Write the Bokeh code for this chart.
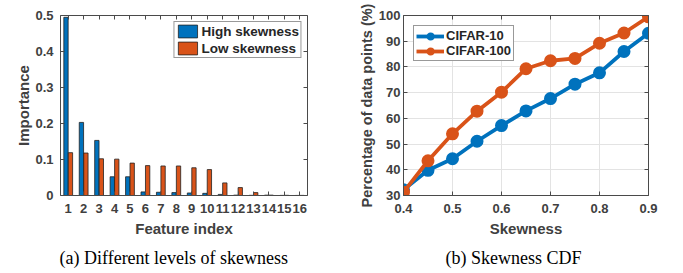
from bokeh.plotting import figure
from bokeh.models import (FixedTicker, LinearAxis, Range1d, Title, Legend, LegendItem,
                          ColumnDataSource, CustomJSTickFormatter)
from bokeh.transform import dodge
from bokeh.layouts import row
from bokeh.embed import file_html
from bokeh.resources import INLINE

# ---------------- data ----------------
feature_idx = list(range(1, 17))
high_skewness = [0.495, 0.203, 0.153, 0.052, 0.052, 0.010, 0.009, 0.008,
                 0.007, 0.006, 0.003, 0.001, 0.0005, 0.001, 0.0003, 0.0002]
low_skewness = [0.119, 0.118, 0.102, 0.101, 0.090, 0.083, 0.082, 0.082,
                0.077, 0.072, 0.035, 0.022, 0.008, 0.001, 0.0005, 0.0003]
importance_ticks = [0, 0.1, 0.2, 0.3, 0.4, 0.5]

skewness = [0.4, 0.45, 0.5, 0.55, 0.6, 0.65, 0.7, 0.75, 0.8, 0.85, 0.9]
cifar10 = [32.2, 39.8, 44.3, 51.1, 57.2, 62.9, 67.7, 73.3, 77.7, 86.0, 93.1]
cifar100 = [31.3, 43.5, 54.0, 62.8, 70.2, 79.3, 82.4, 83.3, 89.2, 93.2, 99.5]
skew_ticks = [0.4, 0.5, 0.6, 0.7, 0.8, 0.9]
pct_ticks = [30, 40, 50, 60, 70, 80, 90, 100]

BLUE = "#0072BD"
ORANGE = "#D95319"
AX = "#4a4a4a"
TXT = "#404040"
FONT = "Liberation Sans"


def style_axis(ax, size="13px"):
    ax.axis_line_color = AX
    ax.axis_line_width = 1
    ax.major_tick_line_color = AX
    ax.major_tick_in = 4
    ax.major_tick_out = 0
    ax.minor_tick_line_color = None
    ax.major_label_text_font = FONT
    ax.major_label_text_font_style = "bold"
    ax.major_label_text_font_size = size
    ax.major_label_text_color = TXT
    ax.axis_label_text_font = FONT
    ax.axis_label_text_font_style = "bold"
    ax.axis_label_text_font_size = "15px"
    ax.axis_label_text_color = TXT


def box_axis(p, place, ticks):
    ax = LinearAxis(ticker=FixedTicker(ticks=ticks),
                    formatter=CustomJSTickFormatter(code="return '';"))
    style_axis(ax)
    ax.major_label_standoff = 0
    p.add_layout(ax, place)


# ---------------- (a) bar chart ----------------
src = ColumnDataSource(dict(x=feature_idx, high=high_skewness, low=low_skewness))
p1 = figure(width=343, height=273, output_backend="svg", toolbar_location=None,
            x_range=Range1d(0.5, 16.5), y_range=Range1d(0, 0.5),
            min_border_left=60, min_border_right=36, min_border_top=15,
            min_border_bottom=76)
p1.outline_line_color = None
p1.xgrid.visible = False
p1.ygrid.visible = False

r_high = p1.vbar(x=dodge("x", -0.145, range=p1.x_range), top="high", width=0.28,
                 source=src, fill_color=BLUE, line_color="#222222", line_width=0.8)
r_low = p1.vbar(x=dodge("x", 0.145, range=p1.x_range), top="low", width=0.28,
                source=src, fill_color=ORANGE, line_color="#222222", line_width=0.8)

p1.xaxis.ticker = FixedTicker(ticks=feature_idx)
p1.yaxis.ticker = FixedTicker(ticks=importance_ticks)
p1.yaxis.major_label_overrides = {0: "0"}
style_axis(p1.xaxis[0])
style_axis(p1.yaxis[0])
p1.xaxis.axis_label = "Feature index"
p1.yaxis.axis_label = "Importance"
p1.xaxis.major_label_standoff = 8
p1.yaxis.major_label_standoff = 7
p1.xaxis.axis_label_standoff = 4
p1.yaxis.axis_label_standoff = 0
box_axis(p1, "above", feature_idx)
box_axis(p1, "right", importance_ticks)

leg1 = Legend(items=[LegendItem(label="High skewness", renderers=[r_high]),
                     LegendItem(label="Low skewness", renderers=[r_low])],
              location="top_right")
leg1.margin = 6
leg1.padding = 1
leg1.spacing = 1
leg1.glyph_width = 24
leg1.glyph_height = 16
leg1.label_height = 16
leg1.label_standoff = 2
leg1.label_text_font = FONT
leg1.label_text_font_style = "bold"
leg1.label_text_font_size = "13.5px"
leg1.label_text_color = "#262626"
leg1.border_line_color = "#333333"
leg1.border_line_width = 1
leg1.background_fill_alpha = 1
p1.add_layout(leg1)

cap1 = Title(text="(a) Different levels of skewness", align="left",
             text_font="Liberation Serif", text_font_size="18px",
             text_font_style="normal", text_color="black", offset=-1, standoff=12)
p1.add_layout(cap1, "below")

# ---------------- (b) CDF line chart ----------------
p2 = figure(width=338, height=273, output_backend="svg", toolbar_location=None,
            x_range=Range1d(0.4, 0.9), y_range=Range1d(30, 100),
            min_border_left=60, min_border_right=33, min_border_top=15,
            min_border_bottom=76)
p2.outline_line_color = None
p2.xaxis.ticker = FixedTicker(ticks=skew_ticks)
p2.yaxis.ticker = FixedTicker(ticks=pct_ticks)
p2.xgrid.ticker = FixedTicker(ticks=skew_ticks)
p2.ygrid.ticker = FixedTicker(ticks=pct_ticks)
p2.xgrid.grid_line_color = "#e3e3e3"
p2.ygrid.grid_line_color = "#e3e3e3"
style_axis(p2.xaxis[0])
style_axis(p2.yaxis[0])
p2.xaxis.axis_label = "Skewness"
p2.yaxis.axis_label = "Percentage of data points (%)"
p2.yaxis.axis_label_text_font_size = "14.5px"
p2.xaxis.major_label_standoff = 8
p2.yaxis.major_label_standoff = 3
p2.xaxis.axis_label_standoff = 4
p2.yaxis.axis_label_standoff = 1
box_axis(p2, "above", skew_ticks)
box_axis(p2, "right", pct_ticks)

l10 = p2.line(skewness, cifar10, line_color=BLUE, line_width=3.8)
m10 = p2.scatter(skewness, cifar10, size=10.5, fill_color=BLUE, line_color=BLUE,
                 line_width=2.5)
l100 = p2.line(skewness, cifar100, line_color=ORANGE, line_width=3.8)
m100 = p2.scatter(skewness, cifar100, size=10.5, fill_color=ORANGE, line_color=ORANGE,
                  line_width=2.5)

leg2 = Legend(items=[LegendItem(label="CIFAR-10", renderers=[l10, m10]),
                     LegendItem(label="CIFAR-100", renderers=[l100, m100])],
              location="top_left")
leg2.margin = 10
leg2.padding = 2
leg2.spacing = 0
leg2.glyph_width = 28
leg2.glyph_height = 14
leg2.label_height = 14
leg2.label_standoff = 2
leg2.label_text_font = FONT
leg2.label_text_font_style = "bold"
leg2.label_text_font_size = "13px"
leg2.label_text_color = "#262626"
leg2.border_line_color = "#333333"
leg2.border_line_width = 1
p2.add_layout(leg2)

cap2 = Title(text="(b) Skewness CDF", align="left",
             text_font="Liberation Serif", text_font_size="18px",
             text_font_style="normal", text_color="black", offset=42, standoff=12)
p2.add_layout(cap2, "below")

layout = row(p1, p2)
open("out.html", "w").write(file_html(layout, INLINE))
